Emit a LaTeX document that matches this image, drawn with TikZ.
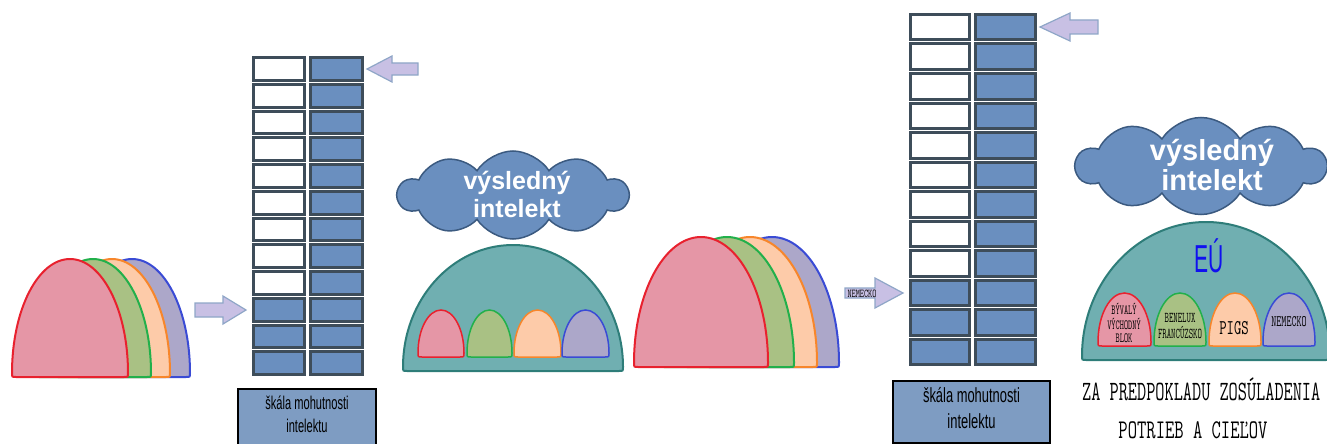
\documentclass[tikz,border=0pt]{standalone}
\usepackage{fontspec}
\setmainfont{Liberation Sans}
\usepackage{graphicx}
\usetikzlibrary{shapes.symbols}
\definecolor{redF}{HTML}{E596A6}\definecolor{redD}{HTML}{E8212E}
\definecolor{grnF}{HTML}{A9C184}\definecolor{grnD}{HTML}{22B04B}
\definecolor{orgF}{HTML}{FDCBA9}\definecolor{orgD}{HTML}{F7862B}
\definecolor{bluF}{HTML}{ACA7C9}\definecolor{bluD}{HTML}{3A4BD5}
\definecolor{tealF}{HTML}{70AFB1}\definecolor{tealD}{HTML}{2E7D79}
\definecolor{arrF}{HTML}{C8C0E4}\definecolor{arrD}{HTML}{8FA6C7}
\definecolor{cloudF}{HTML}{6A8FBF}\definecolor{cloudD}{HTML}{3B5A80}
\definecolor{cellblue}{HTML}{6A8FBF}\definecolor{celledge}{HTML}{3E4D5A}
\definecolor{boxF}{HTML}{7E9CC2}\definecolor{eublue}{HTML}{1010F0}
\newcommand\sqz[2]{\scalebox{#1}[1]{#2}}
\newcommand\bellshape[5]{%
  \pgfmathsetmacro\bcx{(#2+#3)/2}%
  \pgfmathsetmacro\brx{(#3-#2)/2}%
  \pgfmathsetmacro\byc{#5-4}%
  \pgfmathsetmacro\bh{\byc-#4}%
  \draw[#1] (#2,\byc) .. controls (#2,\byc-0.5523*\bh) and (\bcx-0.5523*\brx,#4) .. (\bcx,#4)
    .. controls (\bcx+0.5523*\brx,#4) and (#3,\byc-0.5523*\bh) .. (#3,\byc)
    .. controls (#3,#5) .. (#3-4,#5) -- (#2+4,#5) .. controls (#2,#5) .. (#2,\byc) -- cycle;}
\tikzset{
  bigred/.style={fill=redF,draw=redD,line width=2},
  biggrn/.style={fill=grnF,draw=grnD,line width=2},
  bigorg/.style={fill=orgF,draw=orgD,line width=2},
  bigblu/.style={fill=bluF,draw=bluD,line width=2},
  smred/.style={fill=redF,draw=redD,line width=1.5},
  smgrn/.style={fill=grnF,draw=grnD,line width=1.5},
  smorg/.style={fill=orgF,draw=orgD,line width=1.5},
  smblu/.style={fill=bluF,draw=bluD,line width=1.5},
  domesty/.style={fill=tealF,draw=tealD,line width=2},
  arrsty/.style={fill=arrF,draw=arrD,line width=1.2},
  cellsty/.style={draw=celledge,line width=3},
  cloudsty/.style={cloud,cloud puffs=10,cloud puff arc=115,aspect=2.6,fill=cloudF,draw=cloudD,line width=1.5,inner sep=0},
  cloudtxt/.style={text=white,align=center,inner sep=0},
  lbox/.style={fill=boxF,draw=black,line width=1.5,inner sep=0},
  txt/.style={inner sep=0,text=black}
}
\begin{document}
\begin{tikzpicture}[x=1pt,y=-1pt]
\useasboundingbox (0,0) rectangle (1327,444);
\clip (0,0) rectangle (1327,444);
% left group of bells
\bellshape{bigblu}{74}{190}{259}{377}
\bellshape{bigorg}{54}{170}{259}{377}
\bellshape{biggrn}{35}{151}{259}{377}
\bellshape{bigred}{12}{128}{259}{377}
% arrow 1
\draw[arrsty] (195,303) -- (223,303) -- (223,296) -- (246,310) -- (223,324) -- (223,317) -- (195,317) -- cycle;
% scale 1
\foreach \i in {0,...,8}{
  \pgfmathsetmacro\ya{56+\i*26.75+1.5}\pgfmathsetmacro\yb{56+(\i+1)*26.75-2.5}
  \draw[cellsty,fill=white] (253.5,\ya) rectangle (304.5,\yb);}
\foreach \i in {9,10,11}{
  \pgfmathsetmacro\ya{56+\i*26.75+1.5}\pgfmathsetmacro\yb{56+(\i+1)*26.75-2.5}
  \draw[cellsty,fill=cellblue] (253.5,\ya) rectangle (304.5,\yb);}
\foreach \i in {0,...,11}{
  \pgfmathsetmacro\ya{56+\i*26.75+1.5}\pgfmathsetmacro\yb{56+(\i+1)*26.75-2.5}
  \draw[cellsty,fill=cellblue] (310.5,\ya) rectangle (362.5,\yb);}
% arrow 2
\draw[arrsty] (418,63) -- (392,63) -- (392,56) -- (367,69) -- (392,82) -- (392,75) -- (418,75) -- cycle;
\node[lbox,minimum width=138,minimum height=64,anchor=north] (box1) at (307,388) {};
\node[txt] (box1t) at (307,416) {\sqz{0.6}{\fontsize{18.5}{23}\selectfont\begin{tabular}{@{}c@{}}škála mohutnosti\\intelektu\end{tabular}}};
% cloud 1 and dome 1
\node[cloudsty,minimum width=230,minimum height=88] (cl1) at (513,195) {};
\node[cloudtxt,font=\fontsize{25}{28}\selectfont\bfseries] (cl1t) at (517,194) {výsledný\\intelekt};
\bellshape{domesty}{403}{623}{245}{371}
\bellshape{smred}{418}{464}{310}{357}
\bellshape{smgrn}{467}{512}{310}{357}
\bellshape{smorg}{514}{561}{310}{357}
\bellshape{smblu}{562}{609}{310}{357}
% middle group of bells
\bellshape{bigblu}{705}{839}{237}{367}
\bellshape{bigorg}{683}{817}{237}{367}
\bellshape{biggrn}{660}{794}{237}{367}
\bellshape{bigred}{634}{768}{237}{367}
% arrow 3
\draw[arrsty] (845,288) -- (875,288) -- (875,278) -- (903,293) -- (875,308) -- (875,298) -- (845,298) -- cycle;
\node[txt] (nem1) at (862,294) {\sqz{0.67}{\ttfamily\fontsize{12}{12}\selectfont NEMECKO}};
% scale 2
\foreach \i in {0,...,8}{
  \pgfmathsetmacro\ya{13+\i*29.5+1.5}\pgfmathsetmacro\yb{13+(\i+1)*29.5-2.5}
  \draw[cellsty,fill=white] (910.5,\ya) rectangle (969.5,\yb);}
\foreach \i in {9,10,11}{
  \pgfmathsetmacro\ya{13+\i*29.5+1.5}\pgfmathsetmacro\yb{13+(\i+1)*29.5-2.5}
  \draw[cellsty,fill=cellblue] (910.5,\ya) rectangle (969.5,\yb);}
\foreach \i in {0,...,11}{
  \pgfmathsetmacro\ya{13+\i*29.5+1.5}\pgfmathsetmacro\yb{13+(\i+1)*29.5-2.5}
  \draw[cellsty,fill=cellblue] (975.5,\ya) rectangle (1035.5,\yb);}
% arrow 4
\draw[arrsty] (1098,20) -- (1070,20) -- (1070,13) -- (1040,27) -- (1070,41) -- (1070,34) -- (1098,34) -- cycle;
\node[lbox,minimum width=157,minimum height=62,anchor=north] (box2) at (971.5,380) {};
\node[txt] (box2t) at (971.5,410) {\sqz{0.63}{\fontsize{20.5}{26}\selectfont\begin{tabular}{@{}c@{}}škála mohutnosti\\intelektu\end{tabular}}};
% cloud 2 and dome 2
\node[cloudsty,minimum width=250,minimum height=97] (cl2) at (1201,166) {};
\node[cloudtxt,font=\fontsize{29}{30}\selectfont\bfseries] (cl2t) at (1212,165) {výsledný\\intelekt};
\bellshape{domesty}{1082}{1330}{222}{360}
\node[txt,text=eublue] (eu) at (1209,256) {\sqz{0.54}{\fontsize{39}{39}\selectfont EÚ}};
\bellshape{smred}{1098}{1151}{293}{346}
\bellshape{smgrn}{1154}{1206}{293}{346}
\bellshape{smorg}{1209}{1261}{293}{346}
\bellshape{smblu}{1263}{1315}{293}{346}
\node[txt] (tv) at (1124,325) {\sqz{0.58}{\ttfamily\fontsize{14}{13}\selectfont\begin{tabular}{@{}c@{}}BÝVALÝ\\VÝCHODNÝ\\BLOK\end{tabular}}};
\node[txt] (tb) at (1180,328) {\sqz{0.57}{\ttfamily\fontsize{15}{14}\selectfont\begin{tabular}{@{}c@{}}BENELUX\\FRANCÚZSKO\end{tabular}}};
\node[txt] (tp) at (1234,328) {\sqz{0.68}{\ttfamily\fontsize{21}{21}\selectfont PIGS}};
\node[txt] (tn) at (1289,322) {\sqz{0.61}{\ttfamily\fontsize{16}{16}\selectfont NEMECKO}};
% bottom text
\node[txt,anchor=west] (z1) at (1082,389) {\sqz{0.635}{\ttfamily\fontsize{28}{28}\selectfont ZA PREDPOKLADU ZOSÚLADENIA}};
\node[txt] (z2) at (1193,430) {\sqz{0.67}{\ttfamily\fontsize{27}{27}\selectfont POTRIEB A CIEĽOV}};
\end{tikzpicture}
\end{document}
